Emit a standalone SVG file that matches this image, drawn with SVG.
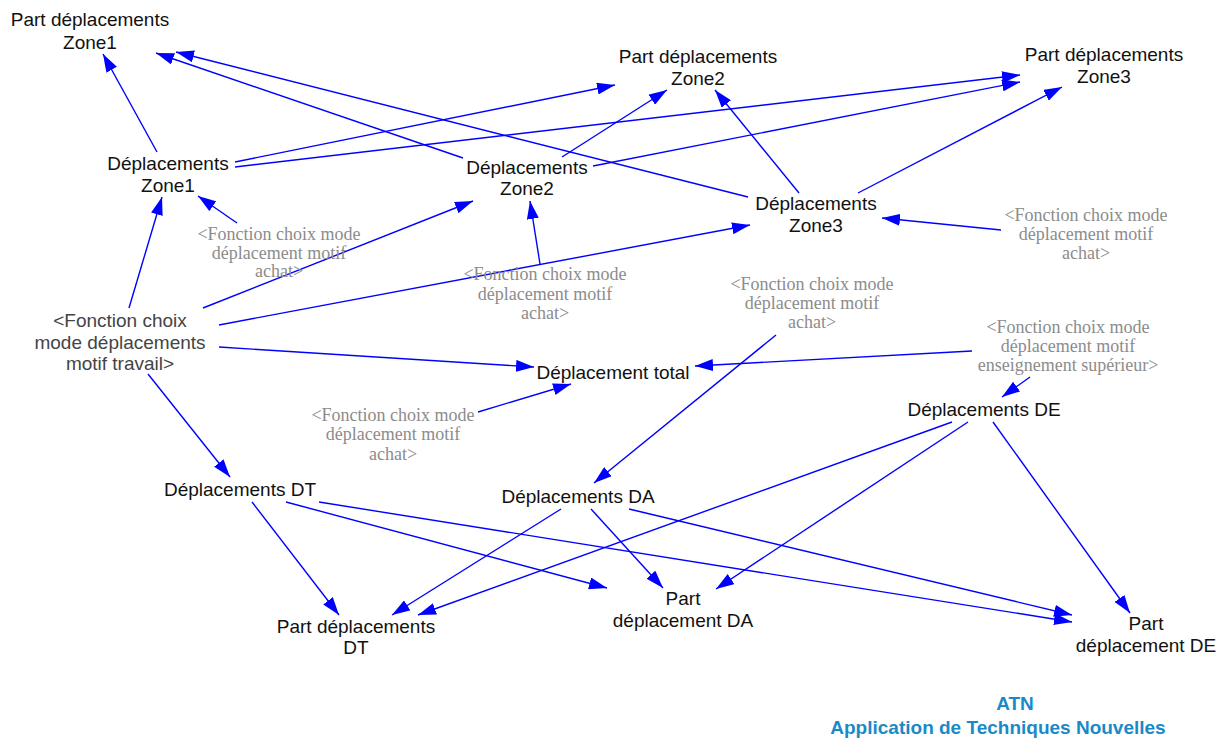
<svg xmlns="http://www.w3.org/2000/svg" width="1229" height="738" viewBox="0 0 1229 738">
  <style>
    .lbl { font-family: "Liberation Sans", Arial, sans-serif; font-size: 19px; fill: #111; text-anchor: middle; }
    .dark { fill: #444; }
    .shadow { font-family: "Liberation Serif", "Times New Roman", serif; font-size: 18px; fill: #8c8c8c; text-anchor: middle; }
    .brand { font-family: "Liberation Sans", Arial, sans-serif; font-size: 19px; font-weight: bold; fill: #1a8ac6; text-anchor: middle; }
    .link { stroke: #0000ff; stroke-width: 1.4; fill: none; marker-end: url(#arrow); }
  </style>
  <defs>
    <marker id="arrow" markerUnits="userSpaceOnUse" viewBox="0 0 18 12" markerWidth="18" markerHeight="12" refX="18" refY="6" orient="auto">
      <path d="M0,0 L18,6 L0,12 z" fill="#0000ff"/>
    </marker>
  </defs>
  <rect width="1229" height="738" fill="#fff"/>

  <g id="connectors">
    <line class="link" x1="157" y1="152" x2="103" y2="54"/>
    <line class="link" x1="463" y1="158" x2="156" y2="53"/>
    <line class="link" x1="748" y1="197" x2="176" y2="52"/>
    <line class="link" x1="235" y1="162" x2="615" y2="85"/>
    <line class="link" x1="235" y1="167" x2="1020" y2="75"/>
    <line class="link" x1="562" y1="157" x2="667" y2="90"/>
    <line class="link" x1="593" y1="166" x2="1020" y2="82"/>
    <line class="link" x1="799" y1="193" x2="715" y2="90"/>
    <line class="link" x1="858" y1="193" x2="1062" y2="87"/>
    <line class="link" x1="237" y1="223" x2="198" y2="196"/>
    <line class="link" x1="129" y1="308" x2="162" y2="197"/>
    <line class="link" x1="203" y1="308" x2="473" y2="201"/>
    <line class="link" x1="219" y1="325" x2="750" y2="225"/>
    <line class="link" x1="540" y1="264" x2="530" y2="201"/>
    <line class="link" x1="1001" y1="230" x2="882" y2="218"/>
    <line class="link" x1="219" y1="347" x2="534" y2="367"/>
    <line class="link" x1="478" y1="412" x2="571" y2="384"/>
    <line class="link" x1="972" y1="351" x2="695" y2="366"/>
    <line class="link" x1="1030" y1="377" x2="1002" y2="397"/>
    <line class="link" x1="776" y1="335" x2="594" y2="483"/>
    <line class="link" x1="148" y1="374" x2="230" y2="477"/>
    <line class="link" x1="252" y1="502" x2="339" y2="615"/>
    <line class="link" x1="286" y1="502" x2="607" y2="588"/>
    <line class="link" x1="319" y1="502" x2="1072" y2="622"/>
    <line class="link" x1="561" y1="509" x2="392" y2="615"/>
    <line class="link" x1="591" y1="509" x2="663" y2="588"/>
    <line class="link" x1="629" y1="509" x2="1072" y2="615"/>
    <line class="link" x1="952" y1="422" x2="418" y2="615"/>
    <line class="link" x1="968" y1="422" x2="716" y2="589"/>
    <line class="link" x1="993" y1="422" x2="1130" y2="613"/>
  </g>

  <g id="part-zone1"><text class="lbl" x="90" y="26">Part déplacements</text><text class="lbl" x="90" y="48.5">Zone1</text></g>
  <g id="part-zone2"><text class="lbl" x="698" y="63">Part déplacements</text><text class="lbl" x="698" y="85">Zone2</text></g>
  <g id="part-zone3"><text class="lbl" x="1104" y="61">Part déplacements</text><text class="lbl" x="1104" y="82.5">Zone3</text></g>
  <g id="depl-zone1"><text class="lbl" x="168" y="170">Déplacements</text><text class="lbl" x="168" y="192">Zone1</text></g>
  <g id="depl-zone2"><text class="lbl" x="527" y="173.5">Déplacements</text><text class="lbl" x="527" y="195">Zone2</text></g>
  <g id="depl-zone3"><text class="lbl" x="816" y="210">Déplacements</text><text class="lbl" x="816" y="232">Zone3</text></g>
  <g id="fonction-travail"><text class="lbl dark" x="120" y="327">&lt;Fonction choix</text><text class="lbl dark" x="120" y="348.5">mode déplacements</text><text class="lbl dark" x="120" y="370">motif travail&gt;</text></g>
  <g id="depl-total"><text class="lbl" x="613" y="378.5">Déplacement total</text></g>
  <g id="depl-de"><text class="lbl" x="984" y="416">Déplacements DE</text></g>
  <g id="depl-dt"><text class="lbl" x="240" y="496">Déplacements DT</text></g>
  <g id="depl-da"><text class="lbl" x="578" y="503">Déplacements DA</text></g>
  <g id="part-dt"><text class="lbl" x="356" y="633">Part déplacements</text><text class="lbl" x="356" y="654">DT</text></g>
  <g id="part-da"><text class="lbl" x="683" y="605">Part</text><text class="lbl" x="683" y="627">déplacement DA</text></g>
  <g id="part-de"><text class="lbl" x="1146" y="630">Part</text><text class="lbl" x="1146" y="652">déplacement DE</text></g>

  <g id="achat-1"><text class="shadow" x="279" y="239.5">&lt;Fonction choix mode</text><text class="shadow" x="279" y="258.5">déplacement motif</text><text class="shadow" x="279" y="277">achat&gt;</text></g>
  <g id="achat-2"><text class="shadow" x="545" y="280">&lt;Fonction choix mode</text><text class="shadow" x="545" y="299.5">déplacement motif</text><text class="shadow" x="545" y="318.5">achat&gt;</text></g>
  <g id="achat-3"><text class="shadow" x="1086" y="221">&lt;Fonction choix mode</text><text class="shadow" x="1086" y="240">déplacement motif</text><text class="shadow" x="1086" y="259">achat&gt;</text></g>
  <g id="achat-4"><text class="shadow" x="812" y="289.5">&lt;Fonction choix mode</text><text class="shadow" x="812" y="308.5">déplacement motif</text><text class="shadow" x="812" y="327.5">achat&gt;</text></g>
  <g id="achat-5"><text class="shadow" x="393" y="421">&lt;Fonction choix mode</text><text class="shadow" x="393" y="440">déplacement motif</text><text class="shadow" x="393" y="459.5">achat&gt;</text></g>
  <g id="enseignement"><text class="shadow" x="1068" y="332.5">&lt;Fonction choix mode</text><text class="shadow" x="1068" y="352">déplacement motif</text><text class="shadow" x="1068" y="371">enseignement supérieur&gt;</text></g>

  <g id="brand"><text class="brand" x="1015" y="710">ATN</text><text class="brand" x="998" y="734">Application de Techniques Nouvelles</text></g>
</svg>
